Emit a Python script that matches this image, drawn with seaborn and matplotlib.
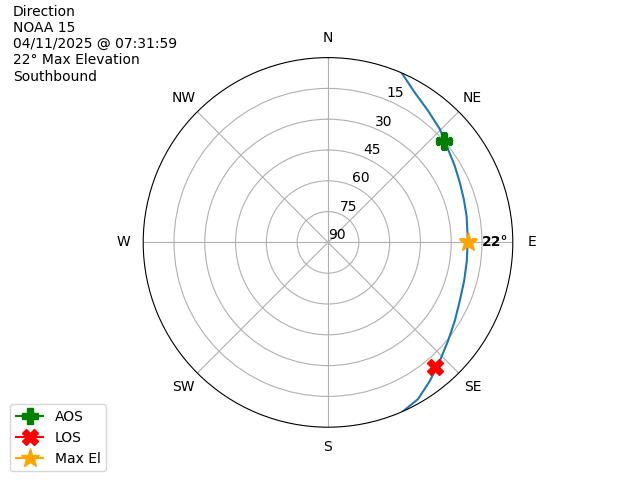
import numpy as np
import pandas as pd
import matplotlib
matplotlib.use("Agg")
import matplotlib.pyplot as plt
import seaborn as sns

# Pass track (azimuth deg, elevation deg)
track_az = [23.5, 30.1, 37.3, 44.7, 52.2, 58.9, 65.6, 72.4, 79.2, 88.7,
            97.6, 105.8, 113.9, 121.7, 129.3, 136.6, 143.6, 150.1, 156.0]
track_el = [0.0, 5.7, 9.5, 12.5, 16.0, 17.9, 19.5, 20.6, 21.3, 21.9,
            21.8, 21.1, 19.8, 17.4, 14.4, 10.7, 6.3, 2.0, 0.0]

aos_az, aos_el = 48.8, 15.0
los_az, los_el = 139.3, 10.1
max_az, max_el = 90.0, 22.0

compass_angles = [0, 45, 90, 135, 180, 225, 270, 315]
compass_labels = ["N", "NE", "E", "SE", "S", "SW", "W", "NW"]
r_ticks = [0, 15, 30, 45, 60, 75]
r_labels = ["90", "75", "60", "45", "30", "15"]

title_lines = ["Direction", "NOAA 15", "04/11/2025 @ 07:31:59",
               "22° Max Elevation", "Southbound"]

df = pd.DataFrame({"theta": np.deg2rad(track_az),
                   "r": 90 - np.array(track_el)})

fig = plt.figure(figsize=(6.4, 4.8), dpi=100)
ax = fig.add_subplot(111, projection="polar")
ax.set_theta_zero_location("N")
ax.set_theta_direction(-1)

sns.lineplot(data=df, x="theta", y="r", ax=ax, sort=False, estimator=None,
             color="#1f77b4", linewidth=1.5)

ax.plot([np.deg2rad(aos_az)], [90 - aos_el], marker="P", color="green",
        markersize=12, label="AOS")
ax.plot([np.deg2rad(los_az)], [90 - los_el], marker="X", color="red",
        markersize=12, label="LOS")
ax.plot([np.deg2rad(max_az)], [90 - max_el], marker="*", color="orange",
        markersize=14, label="Max El")
ax.annotate(f"{int(max_el)}°", (np.deg2rad(max_az), 90 - max_el),
            xytext=(10, 0), textcoords="offset points", va="center",
            fontweight="bold", fontsize=10)

ax.set_ylim(0, 90)
ax.set_yticks(r_ticks)
ax.set_yticklabels(r_labels)
ax.set_thetagrids(compass_angles, compass_labels)
ax.set_xlabel("")
ax.set_ylabel("")
ax.grid(True)

fig.text(0.02, 0.99, "\n".join(title_lines), ha="left", va="top", fontsize=10)
fig.legend(loc="lower left", bbox_to_anchor=(0.005, 0.004))

fig.savefig("out.png", dpi=100)
